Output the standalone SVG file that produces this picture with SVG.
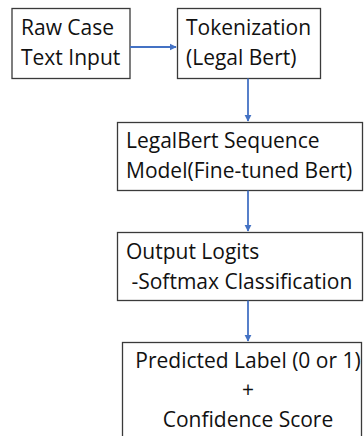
<svg xmlns="http://www.w3.org/2000/svg" width="364" height="436" viewBox="0 0 364 436">
<defs>
<style>
.box{fill:#fff;stroke:#3a3a3a;stroke-width:1.3}
.t{font-family:"Open Sans","Liberation Sans",sans-serif;font-size:21px;fill:#111;white-space:pre}
.c{stroke:#4472C4;stroke-width:1.8;fill:none}
</style>
<marker id="ah" viewBox="0 0 10 10" refX="9" refY="5" markerWidth="4" markerHeight="4" orient="auto"><path d="M0,0 L10,5 L0,10 z" fill="#4472C4"/></marker>
</defs>
<rect width="364" height="436" fill="#fff"/>
<g id="n1"><rect class="box" x="12" y="8.5" width="118" height="70"/><text class="t" x="21" y="35">Raw Case</text><text class="t" x="21" y="65">Text Input</text></g>
<g id="n2"><rect class="box" x="177.5" y="8.5" width="143" height="70"/><text class="t" x="186" y="35">Tokenization</text><text class="t" x="186" y="65">(Legal Bert)</text></g>
<g id="n3"><rect class="box" x="117.5" y="122.5" width="245" height="68"/><text class="t" x="126" y="148">LegalBert Sequence</text><text class="t" x="126" y="178">Model(Fine-tuned Bert)</text></g>
<g id="n4"><rect class="box" x="117.5" y="232.5" width="245" height="68"/><text class="t" x="126" y="259">Output Logits</text><text class="t" x="126" y="289" xml:space="preserve"> -Softmax Classification</text></g>
<g id="n5"><rect class="box" x="122.5" y="342.5" width="239" height="100"/><text class="t" text-anchor="middle" x="248" y="368">Predicted Label (0 or 1)</text><text class="t" text-anchor="middle" x="248" y="397">+</text><text class="t" text-anchor="middle" x="248" y="427">Confidence Score</text></g>
<g id="connectors">
<line class="c" x1="130" y1="47" x2="176" y2="47" marker-end="url(#ah)"/>
<line class="c" x1="248" y1="78.5" x2="248" y2="121" marker-end="url(#ah)"/>
<line class="c" x1="248" y1="190.5" x2="248" y2="231" marker-end="url(#ah)"/>
<line class="c" x1="248" y1="300.5" x2="248" y2="341" marker-end="url(#ah)"/>
</g>
</svg>
